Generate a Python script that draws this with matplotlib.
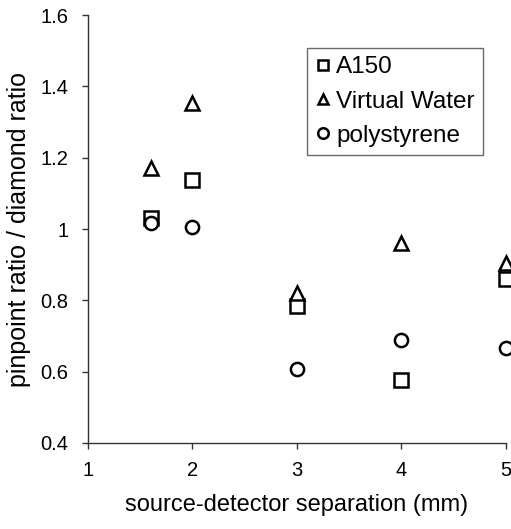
import numpy as np
import matplotlib.pyplot as plt

plt.rcParams['font.family'] = ['Liberation Sans', 'DejaVu Sans']

# separation (mm)
sep = [1.6, 2, 3, 4, 5]
a150 = [1.03, 1.138, 0.783, 0.578, 0.859]
virtual_water = [1.172, 1.352, 0.82, 0.96, 0.904]
polystyrene = [1.017, 1.006, 0.608, 0.69, 0.665]

fig = plt.figure(figsize=(5.11, 5.29), dpi=100)
ax = fig.add_axes([0.172, 0.1626, 0.818, 0.809])

ms = 9.5
ax.plot(sep, a150, 's', ms=ms, mfc='white', mec='black', mew=1.8, label='A150', clip_on=False)
ax.plot(sep, virtual_water, '^', ms=ms, mfc='white', mec='black', mew=1.8, label='Virtual Water', clip_on=False)
ax.plot(sep, polystyrene, 'o', ms=ms, mfc='white', mec='black', mew=1.8, label='polystyrene', clip_on=False)

ax.set_xlim(1, 5)
ax.set_ylim(0.4, 1.6)
ax.set_xticks([1, 2, 3, 4, 5])
ax.set_yticks([0.4, 0.6, 0.8, 1.0, 1.2, 1.4, 1.6])
ax.set_yticklabels(['0.4', '0.6', '0.8', '1', '1.2', '1.4', '1.6'])
ax.spines['top'].set_visible(False)
ax.spines['right'].set_visible(False)
for s in ['left', 'bottom']:
    ax.spines[s].set_color('#333333')
    ax.spines[s].set_linewidth(1.0)
ax.tick_params(axis='both', labelsize=14.5, length=4, width=1.0, color='#333333', pad=10)
ax.tick_params(axis='x', pad=9)

ax.set_xlabel('source-detector separation (mm)', fontsize=17, labelpad=10)
ax.set_ylabel('pinpoint ratio / diamond ratio', fontsize=18, labelpad=7)

leg = ax.legend(loc='upper left', bbox_to_anchor=(0.524, 0.923), fontsize=17.5,
                frameon=True, fancybox=False, edgecolor='#444444',
                handlelength=0.6, handletextpad=0.25, borderpad=0.35,
                labelspacing=0.5, markerscale=0.8, borderaxespad=0)
leg.get_frame().set_linewidth(1.0)

fig.savefig('out.png', dpi=100)
